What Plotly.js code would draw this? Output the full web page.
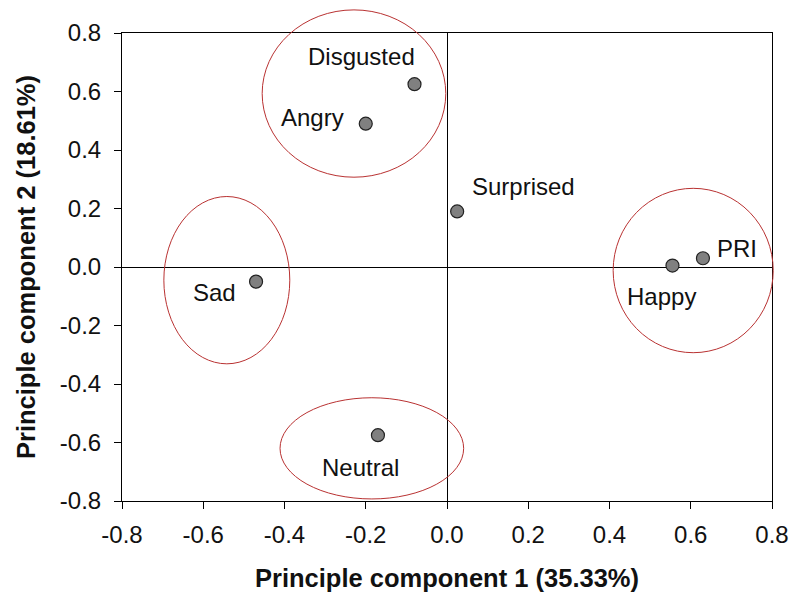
<!DOCTYPE html>
<html>
<head>
<meta charset="utf-8">
<script src="https://cdn.plot.ly/plotly-3.0.1.min.js"></script>
<style>html,body{margin:0;padding:0;background:#fff;}#chart{width:791px;height:595px;}</style>
</head>
<body>
<div id="chart"></div>
<script>
// Data
var emotions = ['Disgusted', 'Angry', 'Surprised', 'Sad', 'Happy', 'PRI', 'Neutral'];
var pc1 = [-0.08, -0.20, 0.025, -0.47, 0.555, 0.63, -0.17];
var pc2 = [0.625, 0.49, 0.19, -0.05, 0.005, 0.03, -0.575];

// Tick values and labels (both axes)
var tickValues = [-0.8, -0.6, -0.4, -0.2, 0.0, 0.2, 0.4, 0.6, 0.8];
var tickLabels = ['-0.8', '-0.6', '-0.4', '-0.2', '0.0', '0.2', '0.4', '0.6', '0.8'];

// Cluster ellipses (data units): centre x, centre y, radius x, radius y
var clusterCx = [-0.229, 0.606, -0.542, -0.185];
var clusterCy = [0.593, -0.012, -0.045, -0.620];
var clusterRx = [0.226, 0.197, 0.155, 0.226];
var clusterRy = [0.286, 0.281, 0.286, 0.173];

var xTitle = 'Principle component 1 (35.33%)';
var yTitle = 'Principle component 2 (18.61%)';

// Label offsets (pixels) relative to each point
var labelDx = [-53, -53, 66, -42, -11, 34, -17];
var labelDy = [28, 6, 25, -11, -31, 10, -32];

var FONT = 'Liberation Sans, Arial, sans-serif';
var xRange = [-0.8, 0.8], yRange = [-0.8, 0.8];
function px(v) { return (v - xRange[0]) / (xRange[1] - xRange[0]); }
function py(v) { return (v - yRange[0]) / (yRange[1] - yRange[0]); }

var shapes = clusterCx.map(function (cx, i) {
  return {
    type: 'circle', xref: 'paper', yref: 'paper',
    x0: px(cx - clusterRx[i]), x1: px(cx + clusterRx[i]),
    y0: py(clusterCy[i] - clusterRy[i]), y1: py(clusterCy[i] + clusterRy[i]),
    line: {color: 'rgb(185,50,50)', width: 1}, layer: 'above'
  };
});

var annotations = emotions.map(function (n, i) {
  return {
    x: pc1[i], y: pc2[i], xref: 'x', yref: 'y', text: n, showarrow: false,
    xshift: labelDx[i], yshift: labelDy[i],
    font: {family: FONT, size: 24, color: '#111'}
  };
});

var trace = {
  x: pc1, y: pc2, mode: 'markers', type: 'scatter', text: emotions,
  marker: {size: 13, color: 'rgb(128,128,128)', line: {color: '#222', width: 1.2}},
  cliponaxis: false, hoverinfo: 'text+x+y'
};

function makeAxis(range, title, standoff, labelStandoff) {
  return {
    range: range, tickmode: 'array', tickvals: tickValues, ticktext: tickLabels,
    ticks: 'outside', ticklen: 7, tickcolor: '#000', tickwidth: 1,
    ticklabelstandoff: labelStandoff,
    showline: true, linecolor: '#000', linewidth: 1, mirror: true,
    showgrid: false, zeroline: true, zerolinecolor: '#000', zerolinewidth: 1,
    tickfont: {family: FONT, size: 24, color: '#111'},
    title: {text: title, standoff: standoff, font: {family: FONT, size: 25.5, color: '#111', weight: 'bold'}}
  };
}

var layout = {
  width: 791, height: 595,
  margin: {l: 122, r: 19, t: 33, b: 94},
  paper_bgcolor: '#fff', plot_bgcolor: '#fff',
  showlegend: false,
  xaxis: makeAxis(xRange, xTitle, 22, 5),
  yaxis: makeAxis(yRange, yTitle, 16, 8),
  shapes: shapes, annotations: annotations
};

Plotly.newPlot('chart', [trace], layout, {displayModeBar: false, staticPlot: true});
</script>
</body>
</html>
